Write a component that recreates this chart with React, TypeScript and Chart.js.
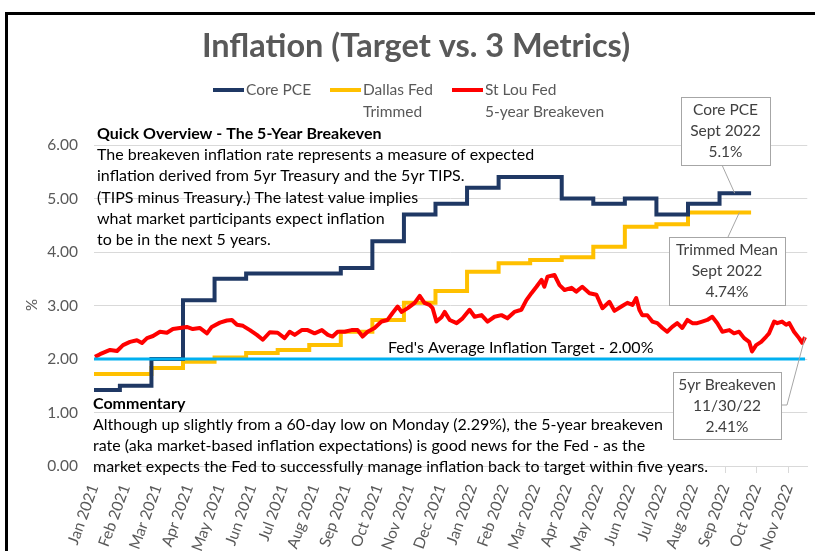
import React, { useEffect, useRef } from 'react';
import { Chart, registerables } from 'chart.js';

Chart.register(...registerables);

// ---------- data ----------
const MONTH_LABELS = [
  'Jan 2021', 'Feb 2021', 'Mar 2021', 'Apr 2021', 'May 2021', 'Jun 2021',
  'Jul 2021', 'Aug 2021', 'Sep 2021', 'Oct 2021', 'Nov 2021', 'Dec 2021',
  'Jan 2022', 'Feb 2022', 'Mar 2022', 'Apr 2022', 'May 2022', 'Jun 2022',
  'Jul 2022', 'Aug 2022', 'Sep 2022', 'Oct 2022', 'Nov 2022',
];

// monthly, Jan 2021 .. Sep 2022
const CORE_PCE = [
  1.42, 1.5, 2.0, 3.1, 3.5, 3.6, 3.6, 3.6, 3.7, 4.2, 4.7, 4.9,
  5.2, 5.4, 5.4, 5.0, 4.9, 5.0, 4.7, 4.9, 5.1,
];

const TRIMMED_MEAN = [
  1.72, 1.72, 1.83, 1.95, 2.03, 2.11, 2.17, 2.26, 2.51, 2.73, 3.05, 3.27,
  3.63, 3.79, 3.85, 3.9, 4.1, 4.47, 4.52, 4.74, 4.74,
];

// months elapsed since 1 Jan 2021
const BREAKEVEN_MONTHS = [
  0.03, 0.19, 0.51, 0.73, 0.92, 1.14, 1.36, 1.52, 1.68, 1.87, 2.09, 2.31, 2.5, 2.72, 2.94,
  3.13, 3.35, 3.58, 3.73, 3.99, 4.21, 4.37, 4.53, 4.72, 4.94, 5.16, 5.35, 5.57, 5.82, 6.04,
  6.2, 6.36, 6.58, 6.77, 6.99, 7.22, 7.41, 7.56, 7.72, 7.94, 8.16, 8.35, 8.51, 8.67, 8.89,
  9.11, 9.3, 9.46, 9.62, 9.75, 9.94, 10.16, 10.32, 10.47, 10.63, 10.73, 10.85, 11.01, 11.11,
  11.27, 11.49, 11.68, 11.9, 12.06, 12.28, 12.47, 12.69, 12.91, 13.1, 13.32, 13.54, 13.7,
  13.86, 14.02, 14.18, 14.27, 14.37, 14.59, 14.75, 14.91, 15.13, 15.28, 15.47, 15.7, 15.92,
  16.11, 16.33, 16.49, 16.71, 16.9, 17.06, 17.18, 17.28, 17.37, 17.53, 17.69, 17.85, 18.01,
  18.16, 18.32, 18.48, 18.64, 18.8, 18.96, 19.11, 19.27, 19.43, 19.59, 19.75, 19.91, 20.13,
  20.28, 20.44, 20.6, 20.76, 20.85, 20.98, 21.14, 21.3, 21.39, 21.55, 21.65, 21.8, 21.93,
  22.03, 22.18, 22.34, 22.44, 22.53,
];

const BREAKEVEN_VALUES = [
  2.04, 2.09, 2.17, 2.15, 2.26, 2.32, 2.35, 2.3, 2.39, 2.43, 2.51, 2.49, 2.56, 2.58, 2.6,
  2.56, 2.58, 2.48, 2.6, 2.68, 2.72, 2.73, 2.64, 2.62, 2.54, 2.45, 2.36, 2.5, 2.49, 2.39,
  2.51, 2.45, 2.54, 2.54, 2.48, 2.54, 2.45, 2.42, 2.51, 2.51, 2.54, 2.54, 2.42, 2.51, 2.58,
  2.7, 2.73, 2.86, 2.98, 2.88, 2.95, 3.05, 3.18, 3.05, 3.01, 2.95, 2.7, 2.78, 2.88,
  2.73, 2.67, 2.76, 2.92, 2.79, 2.82, 2.7, 2.79, 2.82, 2.76, 2.88, 2.92, 3.1,
  3.23, 3.35, 3.48, 3.35, 3.54, 3.57, 3.38, 3.29, 3.33, 3.26, 3.35, 3.23, 3.2,
  2.95, 3.07, 2.9, 2.98, 3.05, 3.01, 3.14, 2.92, 2.82, 2.82, 2.7, 2.67, 2.58,
  2.51, 2.6, 2.67, 2.58, 2.73, 2.67, 2.67, 2.7, 2.73, 2.79, 2.67, 2.51, 2.54,
  2.48, 2.51, 2.39, 2.32, 2.14, 2.26, 2.32, 2.42, 2.48, 2.7, 2.67, 2.7, 2.64,
  2.67, 2.51, 2.39, 2.3, 2.41,
];

const TARGET = 2.0;
const Y_MIN = 0;
const Y_MAX = 6;

const SERIES_NAMES = ['Core PCE', 'Dallas Fed|Trimmed', 'St Lou Fed|5-year Breakeven'];
const SERIES_COLORS = ['#1f3864', '#ffc000', '#ff0000'];
const TARGET_COLOR = '#00b0f0';

const TITLE = 'Inflation (Target vs. 3 Metrics)';
const OVERVIEW_HEAD = 'Quick Overview - The 5-Year Breakeven';
const OVERVIEW_LINES = [
  'The breakeven inflation rate represents a measure of expected',
  'inflation derived from 5yr Treasury and the 5yr TIPS.',
  '(TIPS minus Treasury.) The latest value implies',
  'what market participants expect inflation',
  'to be in the next 5 years.',
];
const COMMENT_HEAD = 'Commentary';
const COMMENT_LINES = [
  'Although up slightly from a 60-day low on Monday (2.29%), the 5-year breakeven',
  'rate (aka market-based inflation expectations) is good news for the Fed - as the',
  'market expects the Fed to successfully manage inflation back to target within five years.',
];
const TARGET_LABEL = "Fed's Average Inflation Target - 2.00%";
const PCE_BOX = ['Core PCE', 'Sept 2022', '5.1%'];
const TRIM_BOX = ['Trimmed Mean', 'Sept 2022', '4.74%'];
const BE_BOX = ['5yr Breakeven', '11/30/22', '2.41%'];

const FONT = 'Lato, "Open Sans", sans-serif';
const STEP_SHIFT = -0.18;

function monthlySteps(values: number[]) {
  const pts = values.map((v, i) => ({ x: i + STEP_SHIFT, y: v }));
  pts.push({ x: values.length + STEP_SHIFT, y: values[values.length - 1] });
  return pts;
}

const overlayPlugin = {
  id: 'overlay',
  afterDraw(chart: any) {
    const ctx: CanvasRenderingContext2D = chart.ctx;
    const xs = chart.scales.x;
    const ys = chart.scales.y;
    const text = (t: string, x: number, y: number, font: string, color: string, align: CanvasTextAlign = 'left') => {
      ctx.font = font;
      ctx.fillStyle = color;
      ctx.textAlign = align;
      ctx.textBaseline = 'middle';
      ctx.fillText(t, x, y);
    };
    const line = (pts: number[][], color: string, w: number) => {
      ctx.beginPath();
      ctx.strokeStyle = color;
      ctx.lineWidth = w;
      ctx.moveTo(pts[0][0], pts[0][1]);
      for (let i = 1; i < pts.length; i++) ctx.lineTo(pts[i][0], pts[i][1]);
      ctx.stroke();
    };
    ctx.save();

    // text box fill hides tick marks under the commentary
    ctx.fillStyle = '#ffffff';
    ctx.fillRect(86, 467.5, 628, 10);

    // outer frame
    ctx.strokeStyle = '#000000';
    ctx.lineWidth = 3;
    ctx.strokeRect(6.5, 13.5, 1000, 1000);

    // title
    text(TITLE, 416, 47, `bold 32.5px ${FONT}`, '#595959', 'center');

    // legend
    const legendX = [213, 330, 452];
    SERIES_NAMES.forEach((name, i) => {
      line([[legendX[i], 90], [legendX[i] + 31, 90]], SERIES_COLORS[i], 4);
      name.split('|').forEach((part, j) => {
        text(part, legendX[i] + 33, 90 + j * 22, `15.5px ${FONT}`, '#595959');
      });
    });

    // y axis title
    ctx.save();
    ctx.translate(32, 305);
    ctx.rotate(-Math.PI / 2);
    text('%', 0, 0, `15px ${FONT}`, '#595959', 'center');
    ctx.restore();

    // overview text
    text(OVERVIEW_HEAD, 97, 134, `bold 16px ${FONT}`, '#000000');
    OVERVIEW_LINES.forEach((t, i) => text(t, 97, 155 + i * 21.2, `16px ${FONT}`, '#000000'));

    // commentary
    text(COMMENT_HEAD, 93, 404, `bold 16px ${FONT}`, '#000000');
    COMMENT_LINES.forEach((t, i) => text(t, 93, 424.5 + i * 21, `16px ${FONT}`, '#000000'));

    // target label
    text(TARGET_LABEL, 388, 348, `16px ${FONT}`, '#000000');

    // call-out boxes
    const box = (x: number, y: number, w: number, h: number, lines: string[]) => {
      ctx.fillStyle = '#ffffff';
      ctx.fillRect(x, y, w, h);
      ctx.strokeStyle = '#a6a6a6';
      ctx.lineWidth = 1;
      ctx.strokeRect(x + 0.5, y + 0.5, w, h);
      lines.forEach((t, i) => text(t, x + w / 2, y + 13 + i * 21, `15.5px ${FONT}`, '#404040', 'center'));
    };

    const pceEnd = CORE_PCE[CORE_PCE.length - 1];
    line([[722, 165], [xs.getPixelForValue(20.3), ys.getPixelForValue(pceEnd)]], '#a6a6a6', 1);
    box(681, 97, 89, 68, PCE_BOX);

    const trimEnd = TRIMMED_MEAN[TRIMMED_MEAN.length - 1];
    line([[728, 237], [xs.getPixelForValue(20.45), ys.getPixelForValue(trimEnd)]], '#a6a6a6', 1);
    box(669, 237, 116, 68, TRIM_BOX);

    const n = BREAKEVEN_MONTHS.length - 1;
    line([[781, 405], [787, 405], [xs.getPixelForValue(BREAKEVEN_MONTHS[n]), ys.getPixelForValue(BREAKEVEN_VALUES[n])]], '#a6a6a6', 1);
    box(673, 372, 108, 67, BE_BOX);

    ctx.restore();
  },
};

export default function App() {
  const ref = useRef<HTMLCanvasElement | null>(null);
  useEffect(() => {
    document.body.style.margin = '0';
    const canvas = ref.current;
    if (!canvas) return;
    const lastX = BREAKEVEN_MONTHS[BREAKEVEN_MONTHS.length - 1];
    const chart = new Chart(canvas, {
      type: 'line',
      data: {
        datasets: [
          {
            label: 'Target',
            data: [{ x: 0, y: TARGET }, { x: lastX, y: TARGET }],
            borderColor: TARGET_COLOR,
            borderWidth: 3,
            pointRadius: 0,
            order: 0,
          },
          {
            label: 'St Lou Fed 5-year Breakeven',
            data: BREAKEVEN_MONTHS.map((m, i) => ({ x: m, y: BREAKEVEN_VALUES[i] })),
            borderColor: SERIES_COLORS[2],
            borderWidth: 4,
            pointRadius: 0,
            borderJoinStyle: 'round',
            order: 1,
          },
          {
            label: 'Core PCE',
            data: monthlySteps(CORE_PCE),
            borderColor: SERIES_COLORS[0],
            borderWidth: 4,
            pointRadius: 0,
            stepped: 'before',
            order: 2,
          },
          {
            label: 'Dallas Fed Trimmed',
            data: monthlySteps(TRIMMED_MEAN),
            borderColor: SERIES_COLORS[1],
            borderWidth: 4,
            pointRadius: 0,
            stepped: 'before',
            order: 3,
          },
        ],
      },
      options: {
        responsive: false,
        animation: false,
        layout: { padding: { top: 145, left: 0, right: 7, bottom: 0 } },
        plugins: { legend: { display: false }, tooltip: { enabled: false }, title: { display: false } },
        scales: {
          x: {
            type: 'linear',
            min: 0,
            max: 22.6,
            afterBuildTicks: (scale: any) => {
              scale.ticks = MONTH_LABELS.map((_, i) => ({ value: i }));
            },
            afterFit: (scale: any) => {
              scale.height = 85;
            },
            ticks: {
              autoSkip: false,
              minRotation: 70,
              maxRotation: 70,
              padding: 9,
              color: '#595959',
              font: { family: FONT, size: 15.5 },
              callback: (v: any) => MONTH_LABELS[v] ?? '',
            },
            grid: { drawOnChartArea: false, drawTicks: true, tickLength: 7, color: '#d9d9d9' },
            border: { display: true, color: '#d9d9d9' },
          },
          y: {
            min: Y_MIN,
            max: Y_MAX,
            afterFit: (scale: any) => {
              scale.width = 94;
            },
            ticks: {
              stepSize: 1,
              padding: 16,
              color: '#595959',
              font: { family: FONT, size: 15.5 },
              callback: (v: any) => Number(v).toFixed(2),
            },
            grid: { drawTicks: false, color: '#d9d9d9' },
            border: { display: false },
          },
        },
      },
      plugins: [overlayPlugin],
    } as any);
    return () => chart.destroy();
  }, []);
  return <canvas ref={ref} width={815} height={551} style={{ display: 'block' }} />;
}
